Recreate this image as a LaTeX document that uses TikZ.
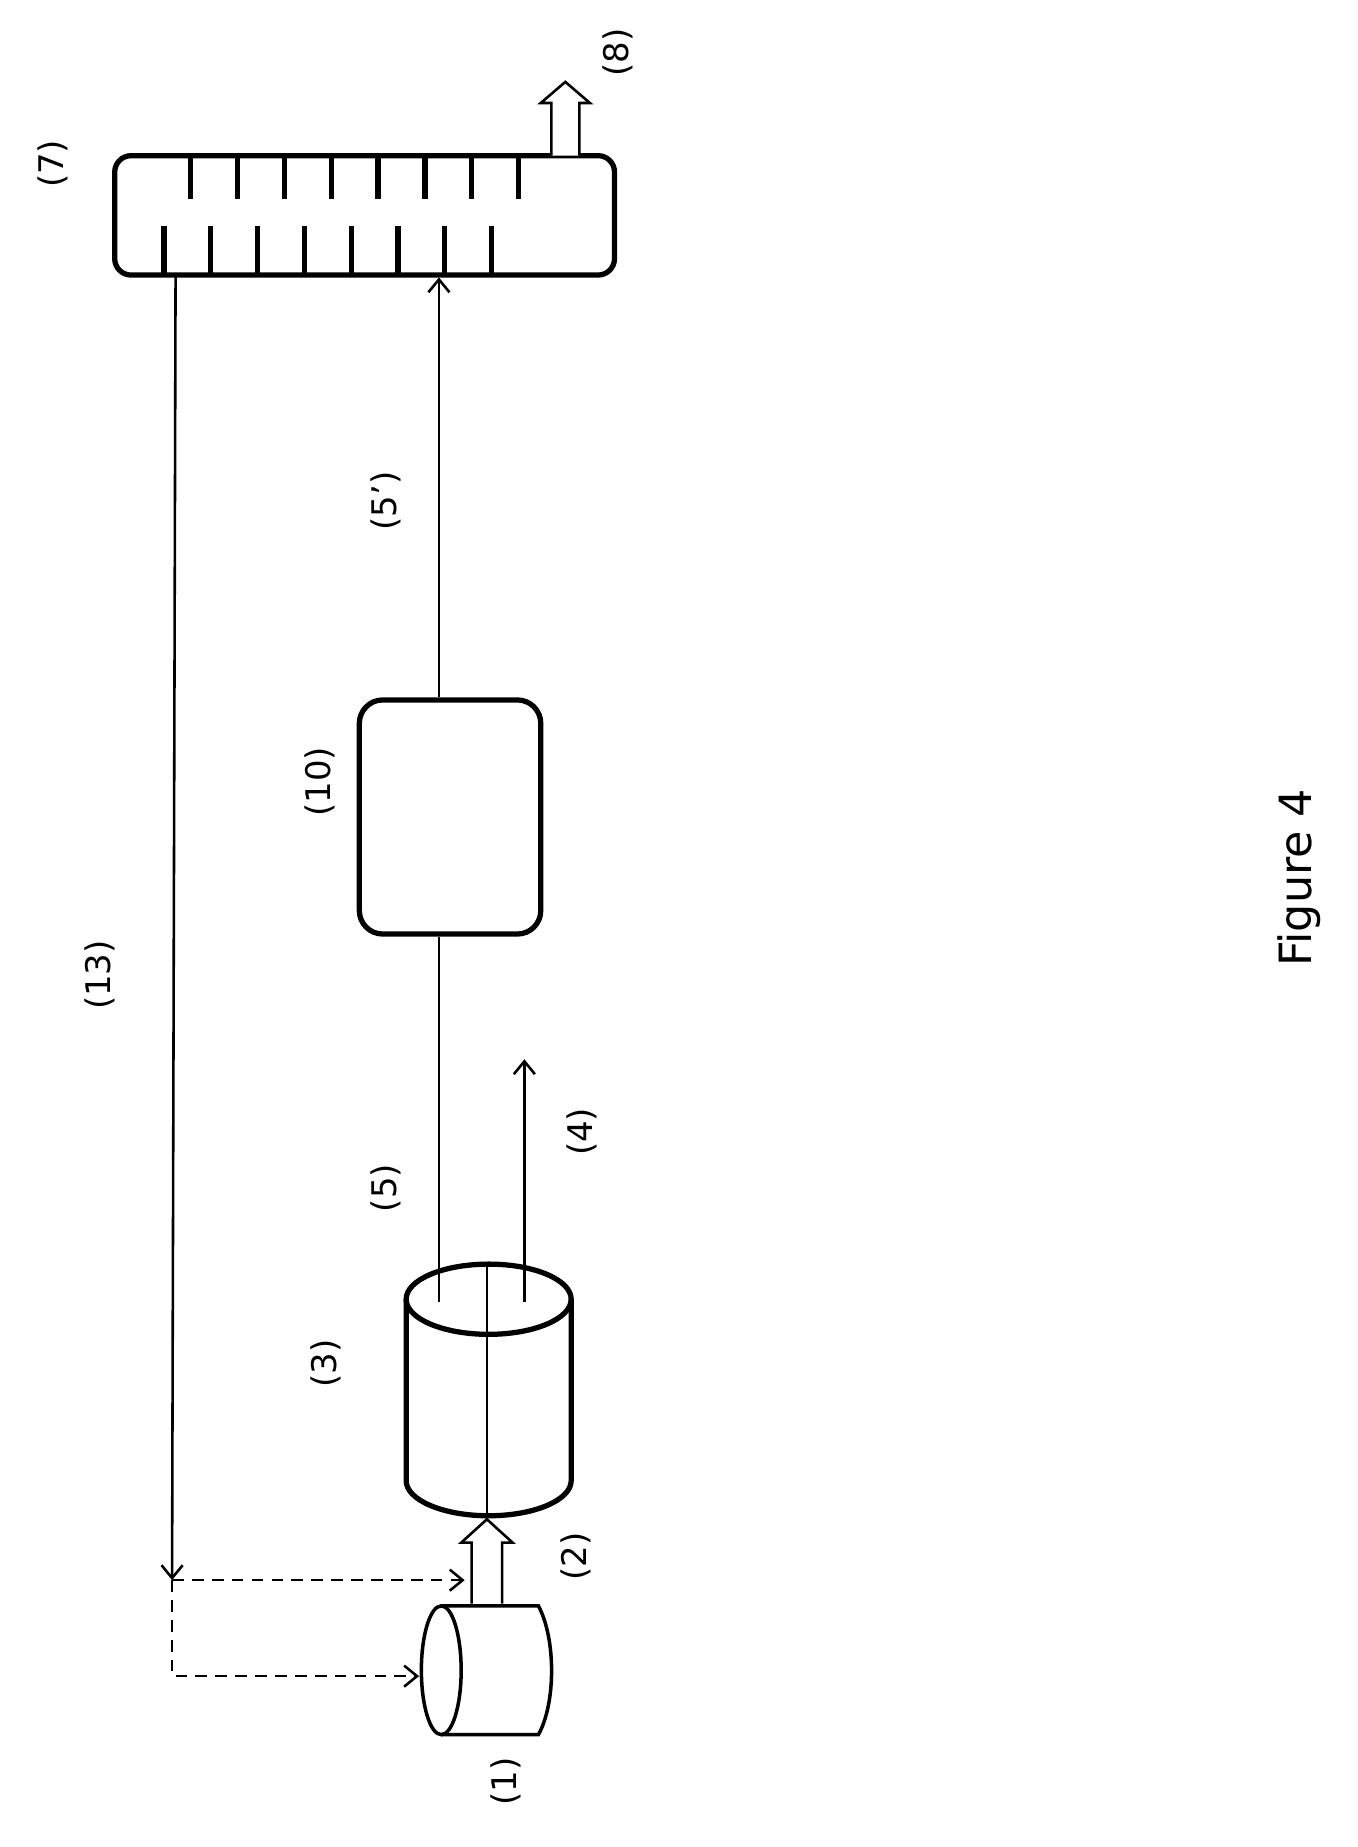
\documentclass[tikz,border=0pt]{standalone}
\usepackage{fontspec}
\setmainfont{DejaVu Sans}
\usetikzlibrary{arrows.meta}
\begin{document}
\begin{tikzpicture}[x=1pt,y=-1pt,
  thk/.style={line width=4.5pt},
  ln/.style={line width=2.2pt},
  arr/.style={ln,-{Straight Barb[length=11pt,width=18pt]}},
  lab/.style={rotate=90,font=\fontsize{29}{34}\selectfont},
  hollow/.style={line width=2.2pt}]
\useasboundingbox (0,0) rectangle (1160,1578);
% column (7)
\node[draw,thk,rounded corners=14pt,minimum width=427pt,minimum height=102pt] (col) at (311.5,184) {};
\foreach \x in {163,203,...,443} \draw[thk] (\x,135) -- (\x,170);
\foreach \x in {140,180,...,420} \draw[thk] (\x,233) -- (\x,193);
\node[lab] (l7) at (45,140) {(7)};
% outlet (8)
\draw[hollow,fill=white] (471,133) -- (471,88) -- (462,88) -- (483,70) -- (504,88) -- (495,88) -- (495,133);
\node[lab] (l8) at (528,45) {(8)};
% recycle (13)
\coordinate (r0) at (150,235);
\coordinate (r1) at (147,1350);
\draw[arr] (r0) -- (r1);
\node[lab] (l13) at (85,833) {(13)};
\coordinate (d1) at (147,1432);
\coordinate (t1) at (397,1350);
\coordinate (t2) at (358,1432);
\draw[ln,dash pattern=on 10pt off 7pt,-{Straight Barb[length=11pt,width=18pt]}] (r1) -- (t1);
\draw[ln,dash pattern=on 10pt off 7pt,-{Straight Barb[length=11pt,width=18pt]}] (r1) -- (d1) -- (t2);
% container (1)
\draw[line width=3pt,fill=white] (377,1372) -- (460,1372) .. controls (475,1400) and (475,1455) .. (460,1482) -- (377,1482);
\draw[line width=3pt,fill=white] (377,1427) ellipse (17pt and 55pt);
\node[lab] (l1) at (432,1522) {(1)};
% feed (2)
\draw[hollow,fill=white] (403,1370) -- (403,1318) -- (394,1318) -- (416,1298) -- (438,1318) -- (429,1318) -- (429,1370);
\node[lab] (l2) at (492,1330) {(2)};
% cylinder (3)
\draw[thk] (347,1110) -- (347,1265) arc[start angle=180,end angle=360,x radius=70.5pt,y radius=30pt] -- (488,1110);
\draw[thk] (417.5,1110) ellipse (70.5pt and 30pt);
\draw[ln] (416,1078) -- (416,1295);
\node[lab] (l3) at (278,1165) {(3)};
% box (10)
\node[draw,thk,rounded corners=20pt,minimum width=155pt,minimum height=200pt] (box) at (384.5,698) {};
\node[lab] (l10) at (273,668) {(10)};
% stream 5
\coordinate (s5) at (375,1112);
\draw[ln] (s5) -- (box.south -| s5);
\draw[arr] (box.north -| s5) -- (375,237);
\node[lab] (l5) at (330,1015) {(5)};
\node[lab] (l5p) at (330,428) {(5’)};
% stream 4
\coordinate (s4) at (448,1112);
\coordinate (e4) at (448,905);
\draw[arr] (s4) -- (e4);
\node[lab] (l4) at (497,967) {(4)};
\node[rotate=90,font=\fontsize{38}{44}\selectfont] (fig) at (1110,750) {Figure 4};
\end{tikzpicture}
\end{document}
